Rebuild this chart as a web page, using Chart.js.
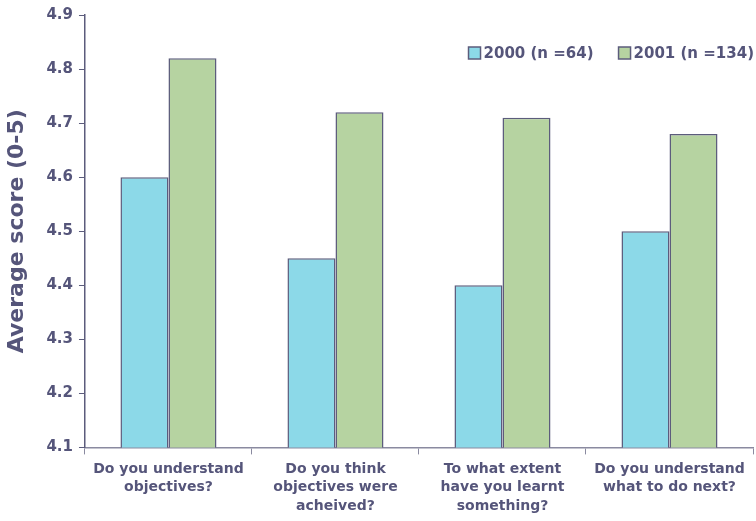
<!DOCTYPE html>
<html>
<head>
<meta charset="utf-8">
<script src="https://cdn.jsdelivr.net/npm/chart.js@4"></script>
<style>
  body { margin: 0; background: #fff; }
  #wrap { width: 756px; height: 521px; }
</style>
</head>
<body>
<div id="wrap"><canvas id="barScore"></canvas></div>
<script>
// dados
const categorias = [
    ['Do you understand', 'objectives?'],
    ['Do you think', 'objectives were', 'acheived?'],
    ['To what extent', 'have you learnt', 'something?'],
    ['Do you understand', 'what to do next?']
];
const notas2000 = [4.60, 4.45, 4.40, 4.50];
const notas2001 = [4.82, 4.72, 4.71, 4.68];
const rotulosSeries = ['2000 (n =64)', '2001 (n =134)'];

const corTexto = '#55557a';
const corBorda = '#5c5c7c';
const fonte = "'DejaVu Sans', Verdana, sans-serif";

// legenda desenhada dentro da area do grafico, canto superior direito
const legendaInterna = {
    id: 'legendaInterna',
    afterDraw(chart) {
        const ctx = chart.ctx;
        const area = chart.chartArea;
        ctx.save();
        ctx.font = 'bold 15px ' + fonte;
        ctx.textBaseline = 'middle';
        const caixa = 12, gap = 3, espaco = 25;
        const itens = chart.data.datasets.map(ds => ({
            texto: ds.label, cor: ds.backgroundColor, largura: ctx.measureText(ds.label).width
        }));
        let total = 0;
        itens.forEach((it, i) => { total += caixa + gap + it.largura + (i > 0 ? espaco : 0); });
        let x = area.right - total + 1;
        const y = area.top + 38;
        itens.forEach(it => {
            ctx.fillStyle = it.cor;
            ctx.fillRect(x, y - caixa / 2, caixa, caixa);
            ctx.strokeStyle = corBorda;
            ctx.lineWidth = 1.5;
            ctx.strokeRect(x, y - caixa / 2, caixa, caixa);
            ctx.fillStyle = corTexto;
            ctx.fillText(it.texto, x + caixa + gap, y + 1);
            x += caixa + gap + it.largura + espaco;
        });
        ctx.restore();
    }
};

const dadosScore = {
    labels: categorias,
    datasets: [{
        label: rotulosSeries[0],
        data: notas2000,
        backgroundColor: '#8cd9e8',
        borderColor: corBorda,
        borderWidth: 1.5,
        barPercentage: 1,
        categoryPercentage: 0.575
    }, {
        label: rotulosSeries[1],
        data: notas2001,
        backgroundColor: '#b6d3a1',
        borderColor: corBorda,
        borderWidth: 1.5,
        barPercentage: 1,
        categoryPercentage: 0.575
    }]
};

const configScore = {
    type: 'bar',
    data: dadosScore,
    options: {
        responsive: true,
        maintainAspectRatio: false,
        animation: false,
        layout: {
            padding: { top: 8, right: 3, left: 4, bottom: 0 }
        },
        scales: {
            x: {
                grid: {
                    display: true,
                    drawOnChartArea: false,
                    drawTicks: true,
                    tickLength: 7,
                    color: '#8a8aa0',
                    offset: true
                },
                border: { color: '#8a8aa0', width: 1.5 },
                ticks: {
                    color: corTexto,
                    maxRotation: 0,
                    autoSkip: false,
                    padding: 6,
                    font: { size: 14, weight: 'bold', family: fonte, lineHeight: 1.3 }
                }
            },
            y: {
                min: 4.1,
                max: 4.9,
                grid: {
                    display: true,
                    drawOnChartArea: false,
                    drawTicks: true,
                    tickLength: 6,
                    color: corBorda
                },
                border: { color: corBorda, width: 1.5 },
                ticks: {
                    stepSize: 0.1,
                    color: corTexto,
                    padding: 6,
                    font: { size: 15, weight: 'bold', family: fonte },
                    callback: function (v) { return v.toFixed(1); }
                },
                title: {
                    display: true,
                    text: 'Average score (0-5)',
                    color: corTexto,
                    padding: { top: 0, bottom: 10 },
                    font: { size: 22, weight: 'bold', family: fonte }
                }
            }
        },
        plugins: {
            legend: { display: false },
            tooltip: { enabled: false }
        }
    },
    plugins: [legendaInterna]
};

new Chart(document.getElementById('barScore').getContext('2d'),
    configScore
);
</script>
</body>
</html>
